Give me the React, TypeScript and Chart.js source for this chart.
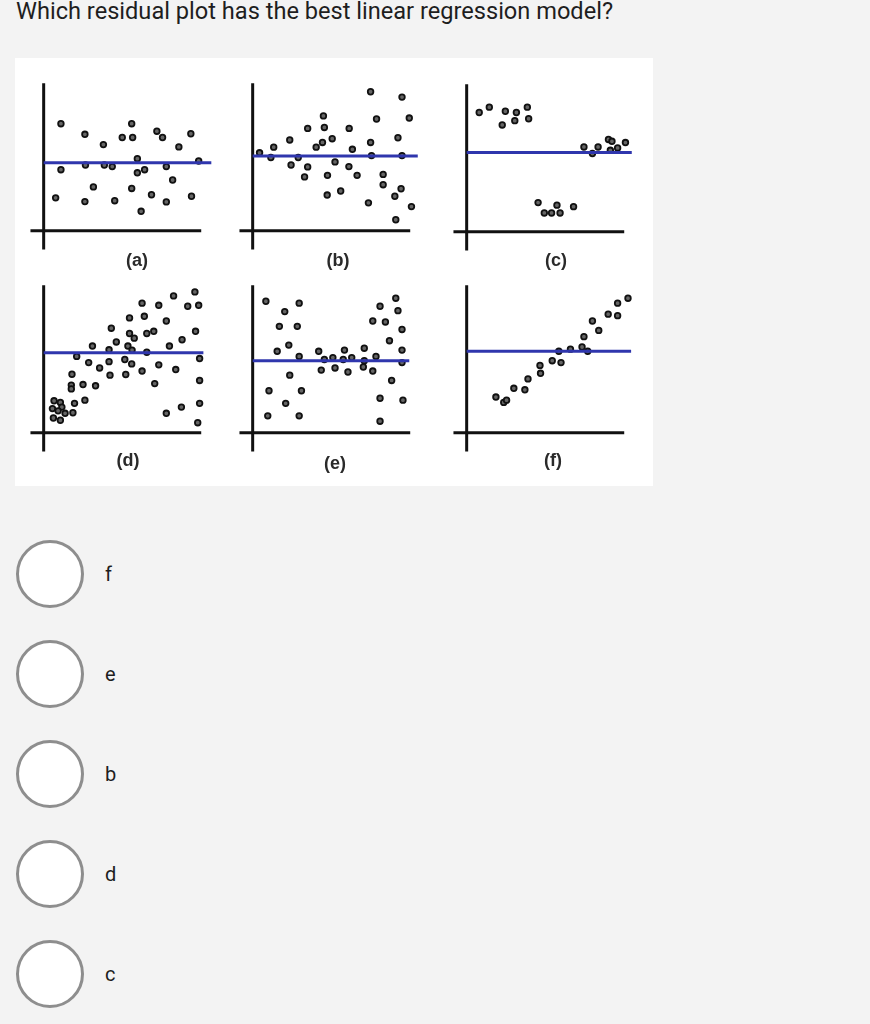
import { useEffect, useRef } from "react"
import { Chart, registerables } from "chart.js"

Chart.register(...registerables)

const QUESTION = "Which residual plot has the best linear regression model?"
const CHOICES = ["f", "e", "b", "d", "c"]
const PANEL_LABELS = ["(a)", "(b)", "(c)", "(d)", "(e)", "(f)"]

// residual points (x right of the y-axis, y above the x-axis)
const pointsA: [number, number][] = [
  [18.3, 114], [43.7, 102.7], [63.3, 91.7], [83.3, 99.3], [93.3, 114], [94.3, 99.3],
  [120, 106], [126, 99.3], [156, 103.3], [143.3, 89.3], [99.3, 76.7], [164.3, 74.3],
  [44.3, 70], [64.3, 70], [72.7, 68.3], [130, 68.3], [18.3, 65], [99.3, 61.7],
  [107, 65], [136.7, 54], [52.7, 46.7], [93.3, 45], [114.3, 38.3], [12.7, 35],
  [43.7, 31], [75.3, 32], [130, 30.7], [156.7, 36.7], [103.3, 20.7],
]

const pointsB: [number, number][] = [
  [7.3, 83], [22.3, 89], [19.3, 78], [39.3, 96.7], [48.3, 78], [40.7, 70],
  [58.3, 109], [58.3, 68], [55, 57.3], [67.3, 89], [74, 94], [75, 122.3],
  [76, 110], [84.3, 98], [87.3, 73.3], [79.3, 59], [79, 38], [93.3, 42.3],
  [102.3, 109], [105.7, 86.7], [102, 68.3], [110.7, 59], [125, 148], [125, 94],
  [126, 80], [131.3, 119], [122.7, 29.7], [138.3, 60], [138.3, 49], [154, 99],
  [158.3, 142.3], [158.3, 80], [166, 120], [157.3, 44.7], [150.7, 36.7],
  [168.3, 25.7], [151.7, 11.7],
]

const pointsC: [number, number][] = [
  [13.3, 127], [24, 132.7], [41, 128.3], [37.7, 113.7], [52.7, 127], [51, 118.3],
  [64.3, 132.7], [65.7, 120.3], [75.7, 31], [82.3, 20], [90, 20], [95.7, 28.3],
  [99, 20], [113.3, 26.7], [124.3, 90.3], [133.3, 83.3], [139.3, 90.3],
  [150.3, 98.3], [154, 96.3], [152.3, 86.7], [160, 89.3], [168.3, 95],
]

const pointsD: [number, number][] = [
  [11, 34], [17.7, 32.3], [19.3, 27.3], [9.3, 25.7], [15.3, 23.3], [22.7, 20.7],
  [10.3, 15.7], [17.7, 13.3], [31, 21.3], [32.7, 31.3], [43.7, 34.7], [29.3, 50.7],
  [29.3, 46.7], [41.7, 51.3], [55, 50], [30, 62.3], [35, 81.3], [47.7, 74.7],
  [51.7, 92.3], [59.3, 69], [69.3, 75.7], [69.3, 88.3], [70.3, 61.3], [71.7, 111.3],
  [77, 96.7], [86, 78], [87, 62], [89.3, 92.3], [91, 122.3], [91, 105.7],
  [96, 100.7], [93.7, 88], [93.3, 73.3], [104.3, 138], [106.7, 124], [104.3, 65.7],
  [109.3, 105.7], [116.7, 108], [109.3, 85.7], [117.7, 52.3], [122, 135.7],
  [122, 72.3], [130, 119], [133.3, 92.3], [137.7, 145.7], [140, 67.3], [146.7, 99],
  [152.7, 134.7], [160.3, 150], [164.3, 135.7], [161, 108], [165.3, 79],
  [165.3, 55.7], [165.3, 31.3], [130, 20.7], [146, 27.3], [163.3, 10.7],
]

const pointsE: [number, number][] = [
  [14, 140], [34, 129], [49.3, 138], [28.3, 113.3], [47.3, 113.3], [38.3, 93.3],
  [26, 86.7], [49.3, 81.3], [39.3, 61.3], [17.3, 44.7], [51.7, 44.7], [35, 31.3],
  [16, 18], [49.3, 18], [70, 86.7], [76, 78], [72.7, 66.7], [85, 80], [87.3, 69],
  [96, 78], [97.3, 88], [105, 80], [101, 64.7], [118.3, 90], [118.3, 76.7],
  [117.3, 70], [127.3, 65.7], [130.7, 81.3], [135, 134.7], [127.3, 119],
  [140.7, 118], [151.7, 143.3], [154, 130], [158.3, 110], [145, 98], [158.3, 88],
  [158.3, 74.7], [147.3, 55.7], [135, 36.7], [159.3, 34.7], [135, 12.3],
]

const pointsF: [number, number][] = [
  [31, 38], [39.3, 32.3], [42.3, 34.7], [50, 47.3], [61.7, 45.7], [65, 57.3],
  [77.7, 71.7], [78.3, 63.3], [90.7, 76.7], [100, 74.7], [97.7, 86.7], [110, 89],
  [122.3, 91.3], [128.3, 86.7], [124.3, 102.3], [133.3, 119], [140, 109],
  [150, 126.3], [160, 124.7], [160, 138], [171, 143.3],
]

const PANEL_POINTS = [pointsA, pointsB, pointsC, pointsD, pointsE, pointsF]
// height of the blue fitted line and where it stops on the right
const FIT_LEVELS = [72.3, 79.7, 84.3, 85.3, 76.7, 86.7]
const FIT_ENDS = [177.7, 175, 175, 169.3, 166, 174.3]
const X_AXIS_RANGE = [-14, 167]
const Y_AXIS_RANGE = [-20, 157]

// layout: where each panel's axes cross on the page, and its caption
const ORIGINS = [[39, 235], [248, 235], [462, 236], [39, 437], [248, 437], [462, 437]]
const LABEL_POS = [[137, 260], [338, 260], [556, 260], [128, 460], [335, 463], [553, 460]]

const PAD_LEFT = 20
const PAD_TOP = 165
const CW = 205
const CH = 190

function ResidualPlot({ idx }: { idx: number }) {
  const chartRef = useRef<HTMLCanvasElement>(null)
  const chartInstance = useRef<Chart | null>(null)

  useEffect(() => {
    if (!chartRef.current) return
    const ctx = chartRef.current.getContext("2d")
    if (!ctx) return
    if (chartInstance.current) chartInstance.current.destroy()

    const level = FIT_LEVELS[idx]
    chartInstance.current = new Chart(ctx, {
      type: "scatter",
      data: {
        datasets: [
          {
            data: [
              { x: 0, y: level },
              { x: FIT_ENDS[idx], y: level },
            ],
            showLine: true,
            borderColor: "#2f36ad",
            borderWidth: 3,
            pointRadius: 0,
          },
          {
            data: PANEL_POINTS[idx].map(([x, y]) => ({ x, y })),
            pointRadius: 2.8,
            borderWidth: 1.8,
            borderColor: "#111111",
            backgroundColor: "#666666",
          },
          {
            data: [
              { x: X_AXIS_RANGE[0], y: 0 },
              { x: X_AXIS_RANGE[1], y: 0 },
            ],
            showLine: true,
            borderColor: "#111111",
            borderWidth: 3,
            pointRadius: 0,
          },
          {
            data: [
              { x: 0, y: Y_AXIS_RANGE[0] },
              { x: 0, y: Y_AXIS_RANGE[1] },
            ],
            showLine: true,
            borderColor: "#111111",
            borderWidth: 3,
            pointRadius: 0,
          },
        ],
      },
      options: {
        responsive: false,
        animation: false,
        events: [],
        layout: { padding: 0 },
        plugins: {
          legend: { display: false },
          tooltip: { enabled: false },
        },
        scales: {
          x: { type: "linear", min: -PAD_LEFT, max: CW - PAD_LEFT, display: false },
          y: { type: "linear", min: PAD_TOP - CH, max: PAD_TOP, display: false },
        },
      },
    })

    return () => {
      if (chartInstance.current) {
        chartInstance.current.destroy()
        chartInstance.current = null
      }
    }
  }, [idx])

  const [ox, oy] = ORIGINS[idx]
  return (
    <canvas
      ref={chartRef}
      width={CW}
      height={CH}
      style={{ position: "absolute", left: ox - PAD_LEFT, top: oy - PAD_TOP, width: CW, height: CH }}
    />
  )
}

export default function App() {
  return (
    <div
      style={{
        position: "absolute",
        left: 0,
        top: 0,
        width: 870,
        height: 1024,
        background: "#f3f3f3",
        overflow: "hidden",
        fontFamily: "Roboto, 'Noto Sans', sans-serif",
      }}
    >
      <div
        style={{
          position: "absolute",
          left: 16,
          top: -3,
          fontSize: 23.6,
          lineHeight: "28px",
          color: "#1e1e1e",
          whiteSpace: "nowrap",
        }}
      >
        {QUESTION}
      </div>

      <div
        style={{ position: "absolute", left: 15, top: 58, width: 638, height: 428, background: "#ffffff" }}
      />

      {PANEL_LABELS.map((_, i) => (
        <ResidualPlot key={i} idx={i} />
      ))}

      {PANEL_LABELS.map((label, i) => (
        <div
          key={label}
          style={{
            position: "absolute",
            left: LABEL_POS[i][0] - 30,
            top: LABEL_POS[i][1] - 12,
            width: 60,
            textAlign: "center",
            fontFamily: "'Liberation Sans', Arial, sans-serif",
            fontWeight: "bold",
            fontSize: 18,
            lineHeight: "24px",
            color: "#2a2a2a",
          }}
        >
          {label}
        </div>
      ))}

      {CHOICES.map((c, i) => (
        <div key={c}>
          <div
            style={{
              position: "absolute",
              left: 50 - 34,
              top: 574 + i * 100 - 34,
              width: 68,
              height: 68,
              boxSizing: "border-box",
              borderRadius: "50%",
              border: "3px solid #8e8e8e",
              background: "#ffffff",
            }}
          />
          <div
            style={{
              position: "absolute",
              left: 105,
              top: 574 + i * 100 - 13,
              fontSize: 20,
              lineHeight: "26px",
              color: "#1e1e1e",
            }}
          >
            {c}
          </div>
        </div>
      ))}
    </div>
  )
}
